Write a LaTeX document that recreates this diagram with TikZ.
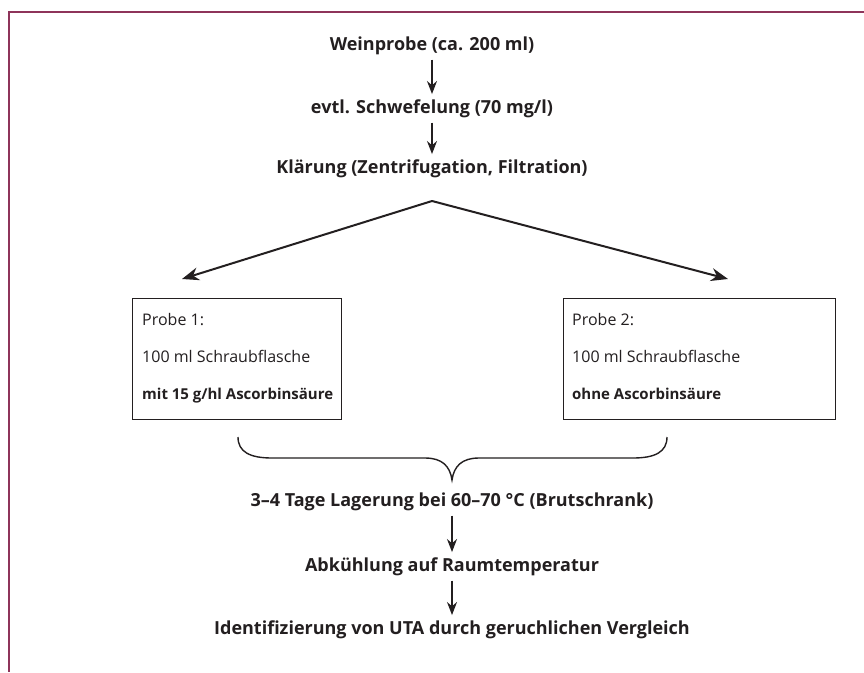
\documentclass[tikz,border=0pt]{standalone}
\usepackage{fontspec}
\setmainfont{Open Sans}
\usetikzlibrary{arrows.meta}
\definecolor{framecol}{RGB}{142,52,90}
\definecolor{inkcol}{RGB}{35,31,32}
\begin{document}
\begin{tikzpicture}[x=1pt,y=-1pt,
  steptext/.style={font=\fontsize{18}{22}\selectfont\bfseries, text=inkcol, inner sep=0pt, anchor=base},
  boxtext/.style={font=\fontsize{16}{20}\selectfont, text=inkcol, inner sep=0pt, anchor=base west},
  boxbold/.style={boxtext, font=\fontsize{15}{20}\selectfont\bfseries},
  probebox/.style={draw=inkcol, line width=1pt},
  flowarrow/.style={draw=inkcol, line width=1.4pt, shorten <=5pt, shorten >=5pt, -{Stealth[length=13pt,width=10pt]}},
  splitarrow/.style={draw=inkcol, line width=2pt, -{Stealth[length=17pt,width=13pt]}},
  bracepath/.style={draw=inkcol, line width=1.4pt},
  frameline/.style={draw=framecol, line width=2.4pt}]
\useasboundingbox (0,0) rectangle (864,672);
\fill[white] (0,0) rectangle (864,672);
\draw[frameline] (864,12) -- (9,12) -- (9,672);

\node[steptext] (s1) at (432,50) {Weinprobe (ca. 200 ml)};
\node[steptext] (s2) at (432,113) {evtl. Schwefelung (70 mg/l)};
\node[steptext] (s3) at (432,173) {Klärung (Zentrifugation, Filtration)};
\coordinate (split) at (432,201);

\draw[probebox] (132,298) rectangle (341,419);
\draw[probebox] (563,298) rectangle (835,419);
\coordinate (t1) at (182,279);
\coordinate (t2) at (728,279);

\node[boxtext] (b1a) at (142,325) {Probe 1:};
\node[boxtext] (b1b) at (142,362) {100 ml Schraubflasche};
\node[boxbold] (b1c) at (142,399) {mit 15 g/hl Ascorbinsäure};
\node[boxtext] (b2a) at (572,325) {Probe 2:};
\node[boxtext] (b2b) at (572,362) {100 ml Schraubflasche};
\node[boxbold] (b2c) at (572,399) {ohne Ascorbinsäure};

\coordinate (brL) at (238,437);
\coordinate (brR) at (667,437);
\coordinate (brTip) at (452,480);
\draw[bracepath] (brL) .. controls (238,452) and (250,458) .. (272,458)
  -- (425,458) .. controls (442,458) and (450,466) .. (brTip)
  .. controls (454,466) and (462,458) .. (479,458)
  -- (633,458) .. controls (655,458) and (667,452) .. (brR);

\node[steptext] (s4) at (452,506) {3–4 Tage Lagerung bei 60–70 °C (Brutschrank)};
\node[steptext] (s5) at (452,571) {Abkühlung auf Raumtemperatur};
\node[steptext] (s6) at (452,634) {Identifizierung von UTA durch geruchlichen Vergleich};

\draw[flowarrow] (s1.south) -- (s2.north);
\draw[flowarrow] (s2.south) -- (s3.north);
\draw[splitarrow] (split) -- (t1);
\draw[splitarrow] (split) -- (t2);
\draw[flowarrow] (s4.south) -- (s5.north);
\draw[flowarrow] (s5.south) -- (s6.north);
\end{tikzpicture}
\end{document}
